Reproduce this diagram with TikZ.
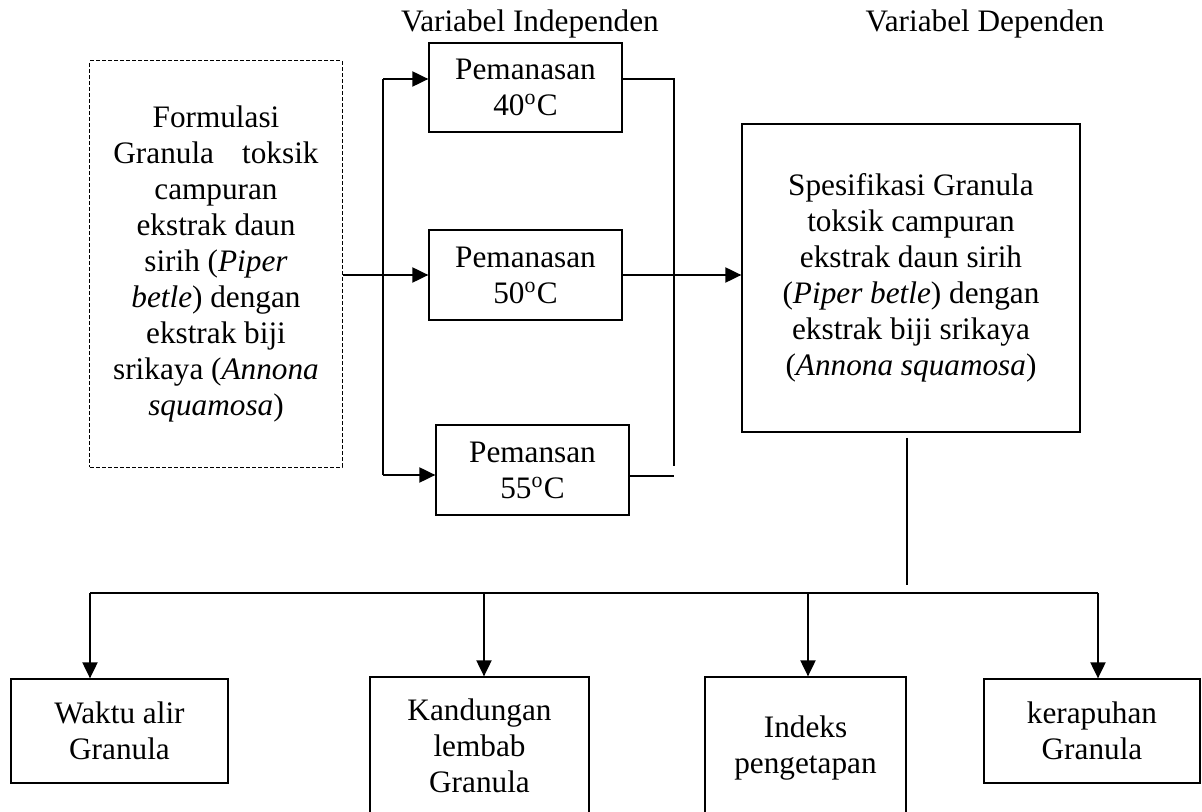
\documentclass[tikz,border=0pt]{standalone}
\usepackage{fontspec}
\setmainfont{Liberation Serif}
\usetikzlibrary{arrows.meta,positioning}

\tikzset{
  teks/.style={font=\fontsize{12.5}{14.4}\selectfont,align=center,inner sep=0pt},
  kotak/.style={teks,draw,line width=0.5pt},
  putus/.style={teks,draw,line width=0.4pt,dash pattern=on 1.6pt off 0.8pt},
  garis/.style={line width=0.8pt},
  panah/.style={garis,-{Triangle[length=6.4pt,width=6pt]}}
}

\begin{document}
\begin{tikzpicture}[line cap=butt,line join=miter,x=0.4pt,y=-0.4pt]
\useasboundingbox (0,0) rectangle (1202,812);
\clip (0,0) rectangle (1202,812);

\node[teks] (indep) at (530,24) {Variabel Independen};
\node[teks] (dep) at (985,24) {Variabel Dependen};

% variabel independen
\node[putus,minimum width=100.8pt,minimum height=162.4pt] (form) at (216,264)
  {Formulasi\\ Granula\hspace{0.9em}toksik\\ campuran\\ ekstrak daun\\
   sirih (\textit{Piper}\\ \textit{betle}) dengan\\ ekstrak biji\\
   srikaya (\textit{Annona}\\ \textit{squamosa})};
\node[kotak,minimum width=77.2pt,minimum height=35.6pt] (p40) at (525.5,87.5) {Pemanasan\\ 40\textsuperscript{o}C};
\node[kotak,minimum width=77.2pt,minimum height=36pt] (p50) at (525.5,275) {Pemanasan\\ 50\textsuperscript{o}C};
\node[kotak,minimum width=77.2pt,minimum height=36pt] (p55) at (532.5,470) {Pemansan\\ 55\textsuperscript{o}C};

% variabel dependen
\node[kotak,minimum width=135.2pt,minimum height=123.2pt] (spek) at (911,278)
  {Spesifikasi Granula\\ toksik campuran\\ ekstrak daun sirih\\
   (\textit{Piper betle}) dengan\\ ekstrak biji srikaya\\ (\textit{Annona squamosa})};

\node[kotak,minimum width=86.8pt,minimum height=41.6pt] (waktu) at (119.5,731) {Waktu alir\\ Granula};
\node[kotak,minimum width=87.6pt,minimum height=55.2pt] (lembab) at (479.5,746) {Kandungan\\ lembab\\ Granula};
\node[kotak,minimum width=80.4pt,minimum height=56.8pt] (indeks) at (805.5,748) {Indeks\\ pengetapan};
\node[kotak,minimum width=86.4pt,minimum height=41.6pt] (rapuh) at (1092,731) {kerapuhan\\ Granula};

% cabang kiri
\coordinate (ka1) at (383,79);
\coordinate (ka2) at (383,475);
\draw[garis] (ka1) -- (ka2);
\draw[panah] (ka1) -- (ka1 -| p40.west);
\draw[panah] (form.east |- p50.west) -- (p50.west);
\draw[panah] (ka2) -- (ka2 -| p55.west);

% cabang kanan
\coordinate (kb1) at (674,79);
\coordinate (kb2) at (674,466);
\coordinate (kb3) at (674,476);
\draw[garis] (p40.east |- kb1) -- (kb1) -- (kb2);
\draw[garis] (p55.east |- kb3) -- (kb3);
\draw[panah] (p50.east) -- (spek.west |- p50.east);

% ke bawah
\coordinate (t1) at (907,438);
\coordinate (t2) at (907,585);
\draw[garis] (t1) -- (t2);
\coordinate (b1) at (90,593);
\coordinate (b2) at (484,593);
\coordinate (b3) at (808,593);
\coordinate (b4) at (1098,593);
\draw[garis] (b1) -- (b4);
\draw[panah] (b1) -- (b1 |- waktu.north);
\draw[panah] (b2) -- (b2 |- lembab.north);
\draw[panah] (b3) -- (b3 |- indeks.north);
\draw[panah] (b4) -- (b4 |- rapuh.north);
\end{tikzpicture}
\end{document}
